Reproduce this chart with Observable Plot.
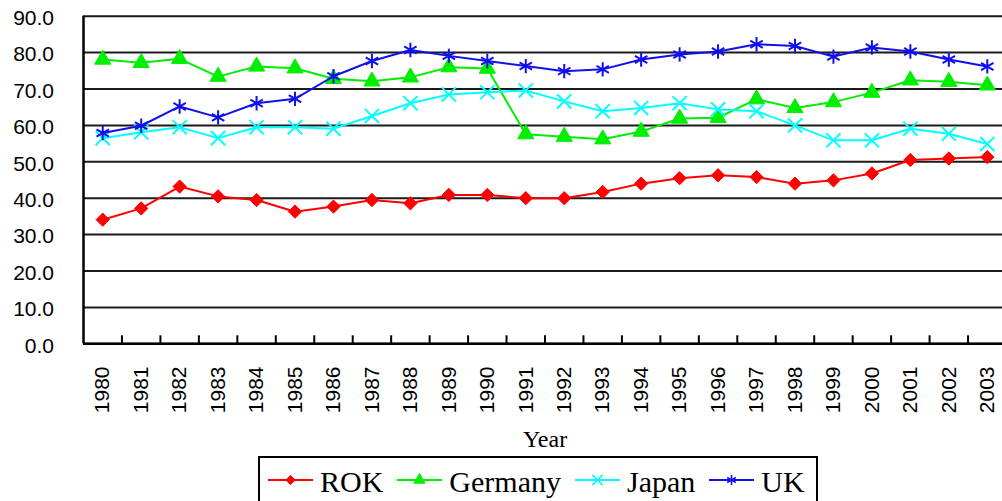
<!DOCTYPE html>
<html>
<head>
<meta charset="utf-8">
<script src="https://cdn.jsdelivr.net/npm/d3@7"></script>
<script src="https://cdn.jsdelivr.net/npm/@observablehq/plot@0.6"></script>
<style>
  html, body { margin: 0; padding: 0; background: #fff; }
  #wrap { position: relative; width: 1002px; height: 501px; overflow: hidden; background: #fff; }
  #legend {
    position: absolute; left: 258px; top: 456px; width: 560px; height: 70px;
    border: 2px solid #000; box-sizing: border-box; display: flex; align-items: flex-start;
    padding: 8px 0 0 8px; font-family: "Liberation Serif", "DejaVu Serif", serif;
    font-size: 30px; line-height: 32px; color: #000; background: #fff;
  }
  .item { display: flex; align-items: flex-start; margin-right: 14px; white-space: nowrap; }
  .item svg { margin-right: 7px; display: block; }
</style>
</head>
<body>
<div id="wrap">
  <div id="chart"></div>
  <div id="legend"></div>
</div>
<script>
const years = [1980,1981,1982,1983,1984,1985,1986,1987,1988,1989,1990,1991,1992,1993,1994,1995,1996,1997,1998,1999,2000,2001,2002,2003];
const rok     = [34.1,37.2,43.2,40.5,39.5,36.3,37.7,39.5,38.6,40.9,40.9,40.0,40.0,41.7,44.0,45.5,46.3,45.8,44.0,44.9,46.8,50.5,50.9,51.3];
const germany = [78.1,77.2,78.3,73.4,76.2,75.7,72.8,72.1,73.2,76.0,75.6,57.6,56.9,56.2,58.3,61.9,62.1,67.2,64.8,66.4,69.0,72.4,72.0,71.0];
const japan   = [56.5,58.1,59.5,56.5,59.5,59.5,59.1,62.6,66.1,68.5,69.1,69.6,66.6,63.9,64.8,66.1,64.4,63.9,60.0,55.9,55.9,59.1,57.7,54.9];
const uk      = [57.9,59.9,65.2,62.2,66.1,67.3,73.5,77.7,80.7,79.1,77.7,76.3,74.9,75.4,78.1,79.5,80.3,82.3,81.8,78.9,81.4,80.3,78.1,76.2];
const yTicks  = [0,10,20,30,40,50,60,70,80,90];
const seriesNames = ["ROK","Germany","Japan","UK"];
const xTitle = "Year";

const seriesStyle = [
  {name: "ROK",     values: rok,     color: "#ff0000", symbol: "diamond2", d3sym: d3.symbolDiamond2, fill: true,  r: 6},
  {name: "Germany", values: germany, color: "#00ee00", symbol: "triangle", d3sym: d3.symbolTriangle, fill: true,  r: 6},
  {name: "Japan",   values: japan,   color: "#00ffff", symbol: "times",    d3sym: d3.symbolTimes,    fill: false, r: 6.5},
  {name: "UK",      values: uk,      color: "#1010ee", symbol: "asterisk", d3sym: d3.symbolAsterisk, fill: false, r: 6.8}
];

const rows = seriesStyle.map(s => years.map((yr, i) => ({year: yr, value: s.values[i], series: s.name})));
const boundaries = years.slice(0, -1).map(y => y + 0.5);
const xDomain = [years[0] - 0.5, years[years.length - 1] + 0.5];

const lineMarks = [];
seriesStyle.forEach((s, k) => {
  lineMarks.push(Plot.line(rows[k], {x: "year", y: "value", stroke: s.color, strokeWidth: 2}));
  lineMarks.push(Plot.dot(rows[k], {
    x: "year", y: "value", symbol: () => s.symbol, r: s.r,
    fill: s.fill ? s.color : "none", stroke: s.color, strokeWidth: s.fill ? 1 : 2
  }));
});

const chart = Plot.plot({
  width: 1002,
  height: 456,
  marginLeft: 83,
  marginRight: 0,
  marginTop: 15.7,
  marginBottom: 112.7,
  x: {type: "linear", domain: xDomain, range: [83, 1006], axis: null},
  y: {domain: [0, 90], range: [343.3, 15.7]},
  style: {fontFamily: "'Liberation Sans', Arial, sans-serif", fontSize: "21px", background: "#fff", color: "#000", overflow: "visible"},
  marks: [
    Plot.ruleY(yTicks, {stroke: "#1a1a1a", strokeWidth: 2}),
    Plot.ruleY([0], {stroke: "#000", strokeWidth: 2.5}),
    Plot.ruleX([xDomain[0]], {y1: 0, y2: 90, stroke: "#000", strokeWidth: 2.5}),
    Plot.ruleX(boundaries, {x: d => d, y1: 0, y2: 2.2, stroke: "#000", strokeWidth: 2}),
    Plot.axisY(yTicks, {tickSize: 0, tickPadding: 29.5, tickFormat: d3.format(".1f"), fontSize: 21, dy: 2, label: null}),
    Plot.text(years, {x: d => d, frameAnchor: "bottom", rotate: -90, textAnchor: "end", lineAnchor: "middle", dy: 22.7, fontSize: 21, text: d => String(d)}),
    Plot.text([xTitle], {frameAnchor: "bottom", dy: 103, dx: 2, fontFamily: "'Liberation Serif', serif", fontSize: 24, text: d => d}),
    ...lineMarks
  ]
});
document.getElementById("chart").appendChild(chart);

// Legend
const legend = d3.select("#legend");
seriesStyle.forEach(s => {
  const item = legend.append("div").attr("class", "item");
  const sw = item.append("svg").attr("width", 45).attr("height", 32);
  sw.append("line").attr("x1", 0).attr("x2", 45).attr("y1", 14).attr("y2", 14)
    .attr("stroke", s.color).attr("stroke-width", 2);
  sw.append("path").attr("transform", "translate(22.5,14)")
    .attr("d", d3.symbol().type(s.d3sym).size(s.fill ? 55 : 70)())
    .attr("fill", s.fill ? s.color : "none").attr("stroke", s.color).attr("stroke-width", s.fill ? 1 : 1.6);
  item.append("span").text(s.name);
});
</script>
</body>
</html>
